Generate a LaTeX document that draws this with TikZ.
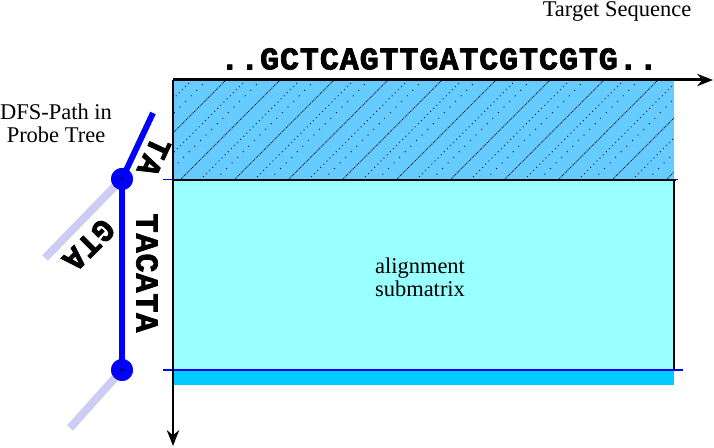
\documentclass[tikz,border=0pt]{standalone}
\usepackage{fontspec}
\setmainfont{Liberation Serif}
\newfontfamily\seqfont{Liberation Mono}[LetterSpace=3, BoldFeatures={FakeBold=2.5}]
\usepackage{xcolor}
\definecolor{colHatch}{RGB}{102,204,255}
\definecolor{colSub}{RGB}{153,255,255}
\definecolor{colStrip}{RGB}{0,204,255}
\definecolor{colPath}{RGB}{0,0,255}
\definecolor{colSide}{RGB}{204,204,245}
\usepackage{tikz}
\usetikzlibrary{arrows.meta, positioning}

\begin{document}
\begin{tikzpicture}[x=0.02cm, y=-0.02cm,
	axis/.style={line width=1.7pt, -{Stealth[length=9pt, width=7pt]}},
	pathline/.style={colPath, line width=3.4pt},
	sideline/.style={colSide, line width=4.5pt},
	treenode/.style={circle, fill=colPath, minimum size=0.44cm, inner sep=0pt},
	hatch/.style={black, line width=0.5pt},
	lbl/.style={font=\fontsize{12.8}{13}\selectfont, align=center},
	seq/.style={font=\seqfont\bfseries\fontsize{18}{18}\selectfont, inner sep=0pt}]
	\useasboundingbox (0,0) rectangle (714,448);
	% matrix regions
	\fill[colHatch] (173,80) rectangle (674,180);
	\fill[colSub] (173,180) rectangle (674,370);
	\fill[colStrip] (173,370) rectangle (674,385);
	\begin{scope}
		\clip (173,81) rectangle (674,179);
		\foreach \o in {-90,-36,...,700}
			\draw[hatch, dash pattern=on 0.5pt off 0.6pt] (\o,180) -- ++(100,-100);
		\foreach \o in {-70,-16,...,700}
			\draw[hatch, dotted] (\o,180) -- ++(100,-100);
		\foreach \o in {-55,-1,...,700}
			\draw[hatch, loosely dotted] (\o,180) -- ++(100,-100);
	\end{scope}
	\draw[colPath, line width=0.6pt] (163,179.5) -- (174,179.5) (672,179.5) -- (678,179.5);
	\draw[line width=0.9pt] (172,180) -- (676,180);
	\draw[line width=1.3pt] (674,180) -- (674,370);
	\draw[colPath, line width=0.8pt] (163,370) -- (683,370);
	\node[lbl] (sub) at (420,277) {alignment\\submatrix};
	% axes
	\coordinate (origin) at (173,80);
	\coordinate (xend) at (713,80);
	\coordinate (yend) at (173,446);
	\draw[axis] (origin) -- (xend);
	\draw[axis] (origin) -- (yend);
	\node[lbl] (target) at (617,11) {Target Sequence};
	\node[seq] (seqtext) at (439,59) {..GCTCAGTTGATCGTCGTG..};
	% probe tree
	\node[lbl] (dfs) at (56,123) {DFS-Path in\\Probe Tree};
	\coordinate (top) at (153,113);
	\coordinate (g1) at (45,258);
	\coordinate (g2) at (70,428);
	\node[treenode] (n1) at (122,179) {};
	\node[treenode] (n2) at (122,370) {};
	\draw[sideline] (n1.center) -- (g1);
	\draw[sideline] (n2.center) -- (g2);
	\draw[pathline] (top) -- (n1.center);
	\draw[pathline] (n1.center) -- (n2.center);
	\node[treenode] at (n1) {};
	\node[treenode] at (n2) {};
	\fill[colPath!60!black] (n1) circle (1.2pt) (n2) circle (1.2pt);
	\node[seq, rotate=-115] (ta) at (154,157) {TA};
	\node[seq, rotate=-135] (gta) at (89,245) {GTA};
	\node[seq, rotate=-90] (tacata) at (147,273) {TACATA};
\end{tikzpicture}
\end{document}
